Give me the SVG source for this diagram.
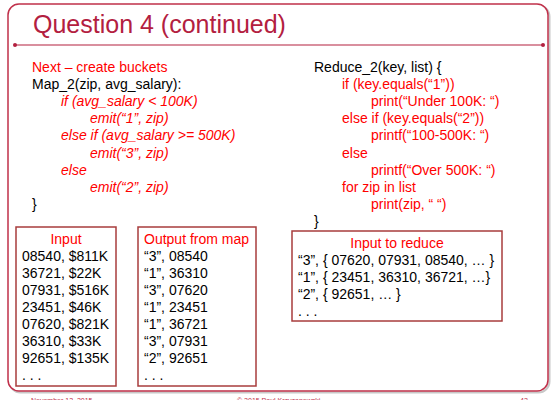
<svg xmlns="http://www.w3.org/2000/svg" width="551" height="400" viewBox="0 0 551 400">
<style>
text{font-family:"Liberation Sans",Arial,sans-serif;font-size:14px;fill:#000}
.r{fill:#ff0000}
.i{font-style:italic}
.box{fill:#fff;stroke:#a83c3c;stroke-width:1.5}
.title{font-size:25px;fill:#b3203f}
.foot{font-size:7px;fill:#c0304a}
</style>
<rect width="551" height="400" fill="#fff"/>
<g id="frame">
<rect x="9.5" y="5.5" width="540" height="387" rx="11" fill="none" stroke="#c8c8c8" stroke-width="2"/>
<rect x="8" y="4" width="540" height="387" rx="11" fill="#fff" stroke="#c0304a" stroke-width="1.5"/>
<text class="title" x="33" y="33">Question 4 (continued)</text>
<line x1="15" y1="45" x2="543" y2="45" stroke="#b3203f" stroke-width="1.2"/>
<circle cx="15" cy="45" r="2" fill="#b3203f"/>
<circle cx="543" cy="45" r="2" fill="#b3203f"/>
</g>
<g id="map_code">
<text class="r" x="32" y="71.5">Next – create buckets</text>
<text x="32" y="88.7">Map_2(zip, avg_salary):</text>
<text class="r i" x="61" y="105.9">if (avg_salary &lt; 100K)</text>
<text class="r i" x="90" y="123.1">emit(“1”, zip)</text>
<text class="r i" x="61" y="140.3">else if (avg_salary &gt;= 500K)</text>
<text class="r i" x="90" y="157.5">emit(“3”, zip)</text>
<text class="r i" x="61" y="174.7">else</text>
<text class="r i" x="90" y="191.9">emit(“2”, zip)</text>
<text x="32" y="209.1">}</text>
</g>
<g id="reduce_code">
<text x="314" y="71.5">Reduce_2(key, list) {</text>
<text class="r" x="342" y="88.7">if (key.equals(“1”))</text>
<text class="r" x="371" y="105.9">print(“Under 100K: “)</text>
<text class="r" x="342" y="123.1">else if (key.equals(“2”))</text>
<text class="r" x="371" y="140.3">printf(“100-500K: “)</text>
<text class="r" x="342" y="157.5">else</text>
<text class="r" x="371" y="174.7">printf(“Over 500K: “)</text>
<text class="r" x="342" y="191.9">for zip in list</text>
<text class="r" x="371" y="209.1">print(zip, “ “)</text>
<text x="314" y="226.3">}</text>
</g>
<g id="input">
<rect class="box" x="16" y="227" width="100" height="159"/>
<text class="r" x="66" y="244" text-anchor="middle">Input</text>
<text x="22" y="261">08540, $811K</text>
<text x="22" y="278">36721, $22K</text>
<text x="22" y="295">07931, $516K</text>
<text x="22" y="312">23451, $46K</text>
<text x="22" y="329">07620, $821K</text>
<text x="22" y="346">36310, $33K</text>
<text x="22" y="363">92651, $135K</text>
<text x="22" y="380">. . .</text>
</g>
<g id="map_output">
<rect class="box" x="138" y="227" width="118" height="159"/>
<text class="r" x="144" y="244">Output from map</text>
<text x="144" y="261">“3”, 08540</text>
<text x="144" y="278">“1”, 36310</text>
<text x="144" y="295">“3”, 07620</text>
<text x="144" y="312">“1”, 23451</text>
<text x="144" y="329">“1”, 36721</text>
<text x="144" y="346">“3”, 07931</text>
<text x="144" y="363">“2”, 92651</text>
<text x="144" y="380">. . .</text>
</g>
<g id="reduce_input">
<rect class="box" x="292" y="231" width="210" height="90"/>
<text class="r" x="397" y="247.5" text-anchor="middle">Input to reduce</text>
<text x="298" y="264.5">“3”, { 07620, 07931, 08540, … }</text>
<text x="298" y="281.5">“1”, { 23451, 36310, 36721, …}</text>
<text x="298" y="298.5">“2”, { 92651, … }</text>
<text x="298" y="315.5">. . .</text>
</g>
<g id="footer">
<text class="foot" x="31" y="402.5">November 12, 2015</text>
<text class="foot" x="237" y="402.5">© 2015 Paul Krzyzanowski</text>
<text class="foot" x="520" y="402.5">42</text>
</g>
<g id="connectors"></g>
</svg>
